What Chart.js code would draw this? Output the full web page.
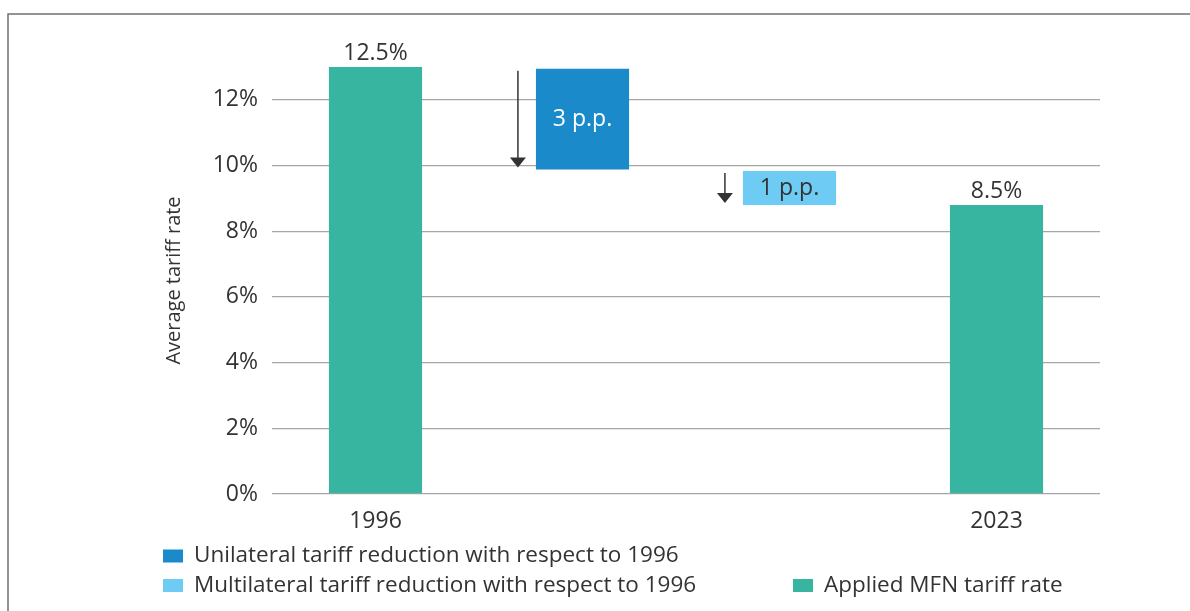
<!DOCTYPE html>
<html>
<head>
<meta charset="utf-8">
<title>Average tariff rate</title>
<script src="https://cdn.jsdelivr.net/npm/chart.js@4.4.1/dist/chart.umd.min.js"></script>
<style>
  html, body { margin: 0; padding: 0; background: #fff; }
  #wrap { width: 1190px; height: 611px; position: relative; }
</style>
</head>
<body>
<div id="wrap"><canvas id="tariffChart" width="1190" height="611"></canvas></div>
<script>
// Chart data
const categories = ['1996', 'Unilateral', 'Multilateral', '2023'];
const tickLabels = ['1996', '', '', '2023'];
const yTicks = [0, 2, 4, 6, 8, 10, 12];
const appliedRate = [13.0, null, null, 8.8];
const appliedLabels = ['12.5%', '', '', '8.5%'];
const unilateralCut = [null, [9.88, 12.95], null, null];
const multilateralCut = [null, null, [8.8, 9.83], null];
const cutLabels = ['', '3 p.p.', '1 p.p.', ''];

const TEXT = '#333333';
const FONT = '"Open Sans", "Noto Sans", sans-serif';

// frame line at top and left of the figure
const framePlugin = {
  id: 'frame',
  beforeDraw(chart) {
    const ctx = chart.ctx;
    ctx.save();
    ctx.strokeStyle = '#707070';
    ctx.lineWidth = 1.5;
    ctx.beginPath();
    ctx.moveTo(8, 611);
    ctx.lineTo(8, 14);
    ctx.lineTo(1190, 14);
    ctx.stroke();
    ctx.restore();
  }
};

// value labels, p.p. labels and down arrows
const labelPlugin = {
  id: 'barLabels',
  afterDatasetsDraw(chart) {
    const ctx = chart.ctx;
    ctx.save();
    ctx.font = '23px ' + FONT;
    ctx.textAlign = 'center';

    // totals above the teal bars
    chart.getDatasetMeta(0).data.forEach((bar, i) => {
      if (appliedRate[i] == null) return;
      ctx.fillStyle = TEXT;
      ctx.textBaseline = 'bottom';
      ctx.fillText(appliedLabels[i], bar.x, bar.y - 2);
    });

    // reductions: label inside, arrow to the left
    [1, 2].forEach(d => {
      const values = chart.data.datasets[d].data;
      chart.getDatasetMeta(d).data.forEach((bar, i) => {
        if (values[i] == null) return;
        const top = Math.min(bar.y, bar.base);
        const bottom = Math.max(bar.y, bar.base);
        ctx.fillStyle = d === 1 ? '#ffffff' : TEXT;
        ctx.textBaseline = 'middle';
        ctx.fillText(cutLabels[i], bar.x, (top + bottom) / 2);

        const ax = bar.x - bar.width / 2 - 18;
        ctx.strokeStyle = TEXT;
        ctx.lineWidth = 1.5;
        ctx.beginPath();
        ctx.moveTo(ax, top + 2);
        ctx.lineTo(ax, bottom - 8);
        ctx.stroke();
        ctx.fillStyle = TEXT;
        ctx.beginPath();
        ctx.moveTo(ax - 8, bottom - 12);
        ctx.lineTo(ax + 8, bottom - 12);
        ctx.lineTo(ax, bottom - 2);
        ctx.closePath();
        ctx.fill();
      });
    });
    ctx.restore();
  }
};

// legend drawn below the axis
const legendPlugin = {
  id: 'customLegend',
  afterDraw(chart) {
    const ctx = chart.ctx;
    const items = [
      { ds: 1, x: 163, y: 556 },
      { ds: 2, x: 163, y: 585.5 },
      { ds: 0, x: 793, y: 585.5 }
    ];
    ctx.save();
    ctx.font = '22.5px ' + FONT;
    ctx.textBaseline = 'middle';
    ctx.textAlign = 'left';
    items.forEach(it => {
      const ds = chart.data.datasets[it.ds];
      ctx.fillStyle = ds.backgroundColor;
      ctx.fillRect(it.x, it.y - 6.5, 20, 13);
      ctx.fillStyle = TEXT;
      ctx.fillText(ds.label, it.x + 31, it.y);
    });
    ctx.restore();
  }
};

const ctx = document.getElementById('tariffChart');
new Chart(ctx, {
  type: 'bar',
  data: {
    labels: categories,
    datasets: [
      {
        label: 'Applied MFN tariff rate',
        data: appliedRate,
        backgroundColor: '#37b5a0'
      },
      {
        label: 'Unilateral tariff reduction with respect to 1996',
        data: unilateralCut,
        backgroundColor: '#1a8acb'
      },
      {
        label: 'Multilateral tariff reduction with respect to 1996',
        data: multilateralCut,
        backgroundColor: '#6ecbf3'
      }
    ]
  },
  options: {
    responsive: false,
    animation: false,
    grouped: false,
    categoryPercentage: 1,
    barPercentage: 0.45,
    layout: {
      padding: { left: 162, right: 90, top: 67, bottom: 72 }
    },
    plugins: {
      legend: { display: false },
      tooltip: { enabled: false }
    },
    scales: {
      x: {
        grid: { display: false, drawTicks: false },
        border: { display: false },
        ticks: {
          color: TEXT,
          font: { family: FONT, size: 23 },
          padding: 14,
          maxRotation: 0,
          callback: (v, i) => tickLabels[i]
        },
        afterFit: s => { s.height = 45; }
      },
      y: {
        min: 0,
        max: 13,
        afterBuildTicks: s => { s.ticks = yTicks.map(v => ({ value: v })); },
        grid: { color: '#a6a6a6', lineWidth: 1.3, drawTicks: false },
        border: { display: false },
        ticks: {
          color: TEXT,
          font: { family: FONT, size: 23 },
          padding: 14,
          callback: v => v + '%'
        },
        title: {
          display: true,
          text: 'Average tariff rate',
          color: TEXT,
          font: { family: '"Liberation Sans Narrow", "Open Sans", sans-serif', size: 20 },
          padding: 0
        },
        afterFit: s => { s.width = 110; }
      }
    }
  },
  plugins: [framePlugin, labelPlugin, legendPlugin]
});
</script>
</body>
</html>
